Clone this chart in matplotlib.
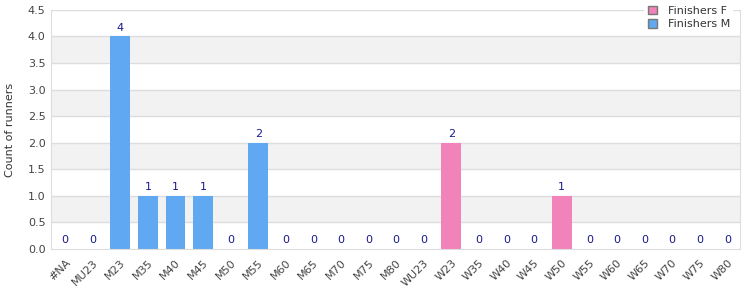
import numpy as np
import matplotlib.pyplot as plt
from matplotlib.patches import Patch

categories = ['#NA', 'MU23', 'M23', 'M35', 'M40', 'M45', 'M50', 'M55', 'M60', 'M65',
              'M70', 'M75', 'M80', 'WU23', 'W23', 'W35', 'W40', 'W45', 'W50', 'W55',
              'W60', 'W65', 'W70', 'W75', 'W80']
finishers_m = [0, 0, 4, 1, 1, 1, 0, 2, 0, 0, 0, 0, 0, 0, 0, 0, 0, 0, 0, 0, 0, 0, 0, 0, 0]
finishers_f = [0, 0, 0, 0, 0, 0, 0, 0, 0, 0, 0, 0, 0, 0, 2, 0, 0, 0, 1, 0, 0, 0, 0, 0, 0]

col_f = '#f282ba'
col_m = '#60a9f2'
grid_col = '#dddddd'

fig = plt.figure(figsize=(7.5, 3), dpi=100)
ax = fig.add_axes([0.068, 0.17, 0.919, 0.797])

x = np.arange(len(categories))
ymax = 4.5

# alternating bands
for i, y0 in enumerate(np.arange(0, ymax, 0.5)):
    if i % 2 == 1:
        ax.axhspan(y0, y0 + 0.5, color='#f2f2f2', zorder=0, lw=0)
for y0 in np.arange(0.5, ymax + 0.01, 0.5):
    ax.axhline(y0, color=grid_col, lw=1, zorder=1)

ax.bar(x, finishers_m, width=0.72, color=col_m, zorder=2)
ax.bar(x, finishers_f, width=0.72, color=col_f, zorder=2)

totals = np.array(finishers_m) + np.array(finishers_f)
for xi, t in zip(x, totals):
    ax.text(xi, t + 0.07, str(t), ha='center', va='bottom', fontsize=8, color='#1a1a8c')

ax.set_xlim(-0.51, len(categories) - 0.53)
ax.set_ylim(0, ymax)
ax.set_yticks(np.arange(0, ymax + 0.01, 0.5))
ax.set_yticklabels([f'{v:.1f}' for v in np.arange(0, ymax + 0.01, 0.5)])
ax.set_xticks(x)
ax.set_xticklabels(categories, rotation=45, ha='right', rotation_mode='anchor')
ax.tick_params(axis='both', length=0, labelsize=8, labelcolor='#444444')
ax.tick_params(axis='x', pad=6)
ax.tick_params(axis='y', pad=4)

for s in ['left', 'bottom', 'right']:
    ax.spines[s].set_color(grid_col)
ax.spines['top'].set_visible(False)

ax.set_ylabel('Count of runners', fontsize=8, color='#333333', labelpad=9)

handles = [Patch(facecolor=col_f, edgecolor='#777777', label='Finishers F'),
           Patch(facecolor=col_m, edgecolor='#777777', label='Finishers M')]
leg = fig.legend(handles=handles, loc='upper right', bbox_to_anchor=(0.985, 1.01),
                 fontsize=8, frameon=True, handlelength=0.8, handleheight=0.8,
                 labelspacing=0.3, borderpad=0.3, handletextpad=1.0)
leg.get_frame().set_edgecolor('none')
leg.get_frame().set_facecolor('white')
leg.get_frame().set_alpha(1)
for t in leg.get_texts():
    t.set_color('#333333')

fig.savefig('out.png', dpi=100)
